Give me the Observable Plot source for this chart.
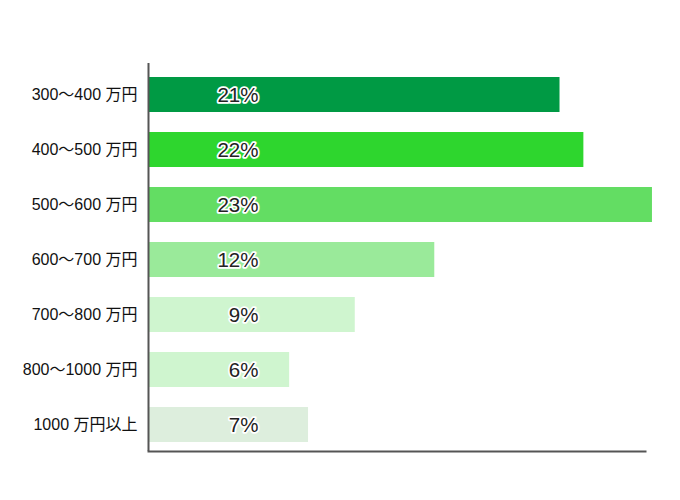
<!DOCTYPE html>
<html>
<head>
<meta charset="utf-8">
<script src="https://cdn.jsdelivr.net/npm/d3@7"></script>
<script src="https://cdn.jsdelivr.net/npm/@observablehq/plot@0.6"></script>
<style>
  body { margin: 0; background: #fff; }
  svg { font-family: "Liberation Sans", Arial, "Noto Sans CJK JP", sans-serif; }
</style>
</head>
<body>
<div id="chart"></div>
<script>
const categories = ["300〜400 万円", "400〜500 万円", "500〜600 万円", "600〜700 万円", "700〜800 万円", "800〜1000 万円", "1000 万円以上"];
const shareLabels = ["21%", "22%", "23%", "12%", "9%", "6%", "7%"];
// bar lengths as drawn in the picture (not exactly proportional to the labels)
const barLengths = [20.7, 21.9, 25.35, 14.4, 10.4, 7.1, 8.05];
const barColors = ["#009a44", "#2ed62e", "#63dd63", "#9aea9a", "#cff5cf", "#cff5cf", "#ddeedd"];

const data = categories.map((c, i) => ({cat: c, value: barLengths[i], label: shareLabels[i], color: barColors[i]}));

const chart = Plot.plot({
  width: 680,
  height: 500,
  marginLeft: 148,
  marginRight: 35,
  marginTop: 63,
  marginBottom: 49,
  x: {domain: [0, 25], axis: null},
  y: {domain: categories, paddingInner: 0.36, paddingOuter: 0.17, align: 0.62, label: null},
  marks: [
    Plot.barX(data, {x: "value", y: "cat", fill: d => d.color}),
    Plot.text(data, {
      y: "cat", text: "label", frameAnchor: "left", dx: 110, textAnchor: "end",
      fill: "#222", stroke: "white", strokeWidth: 3.5, fontSize: 20.5
    }),
    Plot.axisY({tickSize: 0, tickPadding: 11, fontSize: 16, fill: "#111", label: null}),
    Plot.ruleX([0], {stroke: "#555", strokeWidth: 2}),
    Plot.frame({anchor: "bottom", stroke: "#555", strokeWidth: 2})
  ]
});
document.getElementById("chart").appendChild(chart);
</script>
</body>
</html>
